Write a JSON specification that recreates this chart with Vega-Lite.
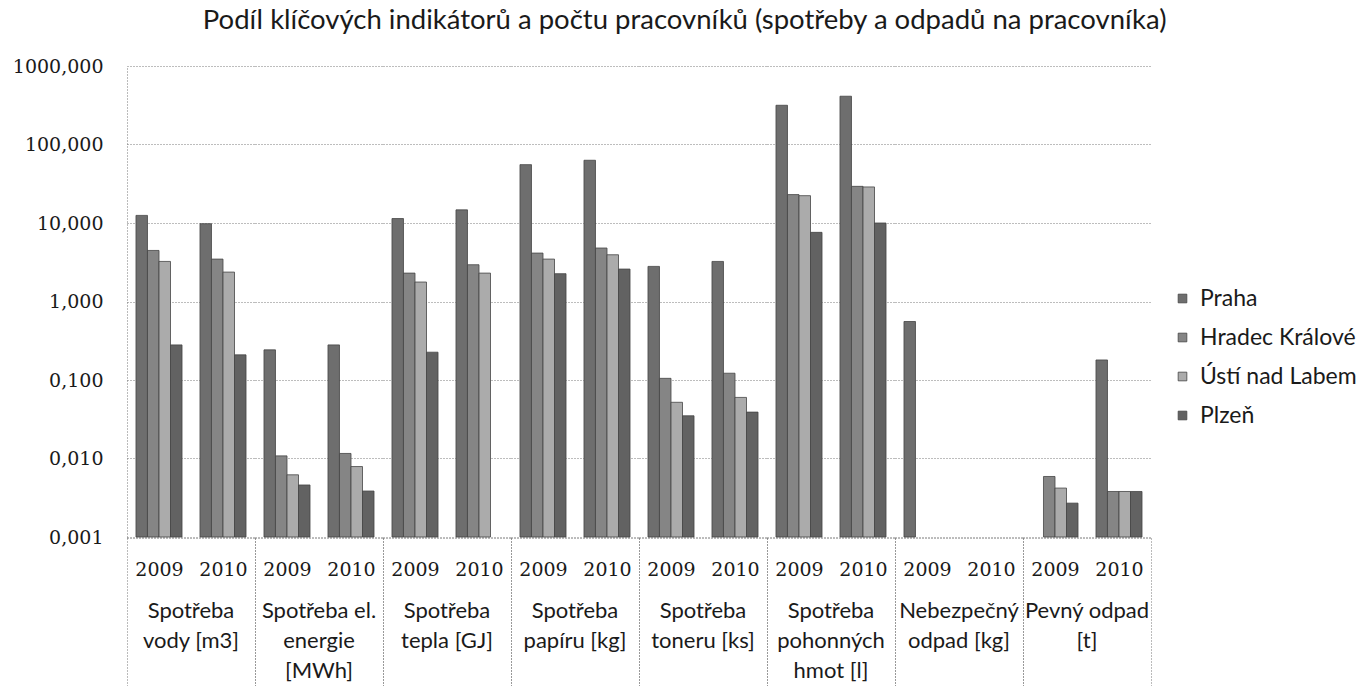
{
  "$schema": "https://vega.github.io/schema/vega-lite/v6.json",
  "padding": {"left": 12, "top": 6, "right": 0, "bottom": 0},
  "background": "white",
  "title": {"text": "Podíl klíčových indikátorů a počtu pracovníků (spotřeby a odpadů na pracovníka)", "font": "Lato", "fontSize": 27.5, "fontWeight": "normal", "color": "#1a1a1a", "anchor": "middle", "offset": 23, "frame": "bounds"},
  "data": {"values": [
    {"cat": "Spotřeba\nvody [m3]", "year": "2009", "city": "Praha", "value": 12.5},
    {"cat": "Spotřeba\nvody [m3]", "year": "2009", "city": "Hradec Králové", "value": 4.47},
    {"cat": "Spotřeba\nvody [m3]", "year": "2009", "city": "Ústí nad Labem", "value": 3.24},
    {"cat": "Spotřeba\nvody [m3]", "year": "2009", "city": "Plzeň", "value": 0.28},
    {"cat": "Spotřeba\nvody [m3]", "year": "2010", "city": "Praha", "value": 9.8},
    {"cat": "Spotřeba\nvody [m3]", "year": "2010", "city": "Hradec Králové", "value": 3.47},
    {"cat": "Spotřeba\nvody [m3]", "year": "2010", "city": "Ústí nad Labem", "value": 2.37},
    {"cat": "Spotřeba\nvody [m3]", "year": "2010", "city": "Plzeň", "value": 0.209},
    {"cat": "Spotřeba el.\nenergie\n[MWh]", "year": "2009", "city": "Praha", "value": 0.242},
    {"cat": "Spotřeba el.\nenergie\n[MWh]", "year": "2009", "city": "Hradec Králové", "value": 0.0108},
    {"cat": "Spotřeba el.\nenergie\n[MWh]", "year": "2009", "city": "Ústí nad Labem", "value": 0.0062},
    {"cat": "Spotřeba el.\nenergie\n[MWh]", "year": "2009", "city": "Plzeň", "value": 0.0046},
    {"cat": "Spotřeba el.\nenergie\n[MWh]", "year": "2010", "city": "Praha", "value": 0.28},
    {"cat": "Spotřeba el.\nenergie\n[MWh]", "year": "2010", "city": "Hradec Králové", "value": 0.0116},
    {"cat": "Spotřeba el.\nenergie\n[MWh]", "year": "2010", "city": "Ústí nad Labem", "value": 0.0079},
    {"cat": "Spotřeba el.\nenergie\n[MWh]", "year": "2010", "city": "Plzeň", "value": 0.00385},
    {"cat": "Spotřeba\ntepla [GJ]", "year": "2009", "city": "Praha", "value": 11.4},
    {"cat": "Spotřeba\ntepla [GJ]", "year": "2009", "city": "Hradec Králové", "value": 2.3},
    {"cat": "Spotřeba\ntepla [GJ]", "year": "2009", "city": "Ústí nad Labem", "value": 1.77},
    {"cat": "Spotřeba\ntepla [GJ]", "year": "2009", "city": "Plzeň", "value": 0.226},
    {"cat": "Spotřeba\ntepla [GJ]", "year": "2010", "city": "Praha", "value": 14.7},
    {"cat": "Spotřeba\ntepla [GJ]", "year": "2010", "city": "Hradec Králové", "value": 2.94},
    {"cat": "Spotřeba\ntepla [GJ]", "year": "2010", "city": "Ústí nad Labem", "value": 2.3},
    {"cat": "Spotřeba\npapíru [kg]", "year": "2009", "city": "Praha", "value": 55.4},
    {"cat": "Spotřeba\npapíru [kg]", "year": "2009", "city": "Hradec Králové", "value": 4.14},
    {"cat": "Spotřeba\npapíru [kg]", "year": "2009", "city": "Ústí nad Labem", "value": 3.47},
    {"cat": "Spotřeba\npapíru [kg]", "year": "2009", "city": "Plzeň", "value": 2.26},
    {"cat": "Spotřeba\npapíru [kg]", "year": "2010", "city": "Praha", "value": 63},
    {"cat": "Spotřeba\npapíru [kg]", "year": "2010", "city": "Hradec Králové", "value": 4.8},
    {"cat": "Spotřeba\npapíru [kg]", "year": "2010", "city": "Ústí nad Labem", "value": 3.94},
    {"cat": "Spotřeba\npapíru [kg]", "year": "2010", "city": "Plzeň", "value": 2.59},
    {"cat": "Spotřeba\ntoneru [ks]", "year": "2009", "city": "Praha", "value": 2.8},
    {"cat": "Spotřeba\ntoneru [ks]", "year": "2009", "city": "Hradec Králové", "value": 0.105},
    {"cat": "Spotřeba\ntoneru [ks]", "year": "2009", "city": "Ústí nad Labem", "value": 0.052},
    {"cat": "Spotřeba\ntoneru [ks]", "year": "2009", "city": "Plzeň", "value": 0.035},
    {"cat": "Spotřeba\ntoneru [ks]", "year": "2010", "city": "Praha", "value": 3.24},
    {"cat": "Spotřeba\ntoneru [ks]", "year": "2010", "city": "Hradec Králové", "value": 0.122},
    {"cat": "Spotřeba\ntoneru [ks]", "year": "2010", "city": "Ústí nad Labem", "value": 0.06},
    {"cat": "Spotřeba\ntoneru [ks]", "year": "2010", "city": "Plzeň", "value": 0.039},
    {"cat": "Spotřeba\npohonných\nhmot [l]", "year": "2009", "city": "Praha", "value": 316},
    {"cat": "Spotřeba\npohonných\nhmot [l]", "year": "2009", "city": "Hradec Králové", "value": 23},
    {"cat": "Spotřeba\npohonných\nhmot [l]", "year": "2009", "city": "Ústí nad Labem", "value": 22.3},
    {"cat": "Spotřeba\npohonných\nhmot [l]", "year": "2009", "city": "Plzeň", "value": 7.6},
    {"cat": "Spotřeba\npohonných\nhmot [l]", "year": "2010", "city": "Praha", "value": 412},
    {"cat": "Spotřeba\npohonných\nhmot [l]", "year": "2010", "city": "Hradec Králové", "value": 29.3},
    {"cat": "Spotřeba\npohonných\nhmot [l]", "year": "2010", "city": "Ústí nad Labem", "value": 28.8},
    {"cat": "Spotřeba\npohonných\nhmot [l]", "year": "2010", "city": "Plzeň", "value": 10},
    {"cat": "Nebezpečný\nodpad [kg]", "year": "2009", "city": "Praha", "value": 0.556},
    {"cat": "Pevný odpad\n[t]", "year": "2009", "city": "Hradec Králové", "value": 0.0059},
    {"cat": "Pevný odpad\n[t]", "year": "2009", "city": "Ústí nad Labem", "value": 0.0042},
    {"cat": "Pevný odpad\n[t]", "year": "2009", "city": "Plzeň", "value": 0.0027},
    {"cat": "Pevný odpad\n[t]", "year": "2010", "city": "Praha", "value": 0.18},
    {"cat": "Pevný odpad\n[t]", "year": "2010", "city": "Hradec Králové", "value": 0.0038},
    {"cat": "Pevný odpad\n[t]", "year": "2010", "city": "Ústí nad Labem", "value": 0.0038},
    {"cat": "Pevný odpad\n[t]", "year": "2010", "city": "Plzeň", "value": 0.0038}
  ]},
  "spacing": 0,
  "facet": {
    "column": {
      "field": "cat", "type": "nominal", "title": null,
      "sort": ["Spotřeba\nvody [m3]", "Spotřeba el.\nenergie\n[MWh]", "Spotřeba\ntepla [GJ]", "Spotřeba\npapíru [kg]", "Spotřeba\ntoneru [ks]", "Spotřeba\npohonných\nhmot [l]", "Nebezpečný\nodpad [kg]", "Pevný odpad\n[t]"],
      "header": {"labelOrient": "bottom", "labelFont": "Lato", "labelFontSize": 22, "labelColor": "#1a1a1a", "labelExpr": "split(datum.label, '\\n')", "labelLineHeight": 30, "labelBaseline": "top", "labelPadding": -88}
    }
  },
  "spec": {
    "width": 128,
    "height": 471,
    "mark": {"type": "bar", "stroke": "#454545", "strokeWidth": 0.8},
    "encoding": {
      "x": {"field": "year", "type": "nominal", "title": null,
        "scale": {"domain": ["2009", "2010"], "paddingInner": 0, "paddingOuter": 0},
        "axis": {"labelAngle": 0, "labelFont": "DejaVu Serif", "labelFontSize": 19, "labelColor": "#1a1a1a", "tickBand": "extent", "tickSize": 150, "labelPadding": -128, "tickDash": [1, 2], "tickColor": {"condition": {"test": "datum.value == '2009'", "value": "transparent"}, "value": "#777"}, "domainColor": "#777", "domainDash": [1, 2], "grid": false}
      },
      "xOffset": {"field": "city", "type": "nominal", "scale": {"domain": ["Praha", "Hradec Králové", "Ústí nad Labem", "Plzeň"], "paddingInner": 0, "paddingOuter": 0.78}},
      "y": {"field": "value", "type": "quantitative", "title": null,
        "scale": {"type": "log", "domain": [0.001, 1000]},
        "axis": {"values": [0.001, 0.01, 0.1, 1, 10, 100, 1000], "labelExpr": "replace(format(datum.value, '.3f'), '.', ',')", "labelFont": "DejaVu Serif", "labelFontSize": 19, "labelColor": "#1a1a1a", "ticks": false, "labelPadding": 24, "domainColor": "#777", "domainDash": [1, 2], "gridColor": "#7a7a7a", "gridDash": [1, 2], "gridWidth": 1}
      },
      "y2": {"datum": 0.001},
      "color": {"field": "city", "type": "nominal",
        "scale": {"domain": ["Praha", "Hradec Králové", "Ústí nad Labem", "Plzeň"], "range": ["#6e6e6e", "#858585", "#ababab", "#626262"]},
        "legend": {"orient": "none", "legendX": 1044, "legendY": 221, "title": null, "symbolType": "square", "symbolSize": 75, "symbolStrokeColor": "#444", "symbolStrokeWidth": 0.8, "labelFont": "Lato", "labelFontSize": 23, "labelColor": "#1a1a1a", "rowPadding": 15, "labelOffset": 6}
      }
    }
  },
  "config": {"view": {"stroke": null}}
}
